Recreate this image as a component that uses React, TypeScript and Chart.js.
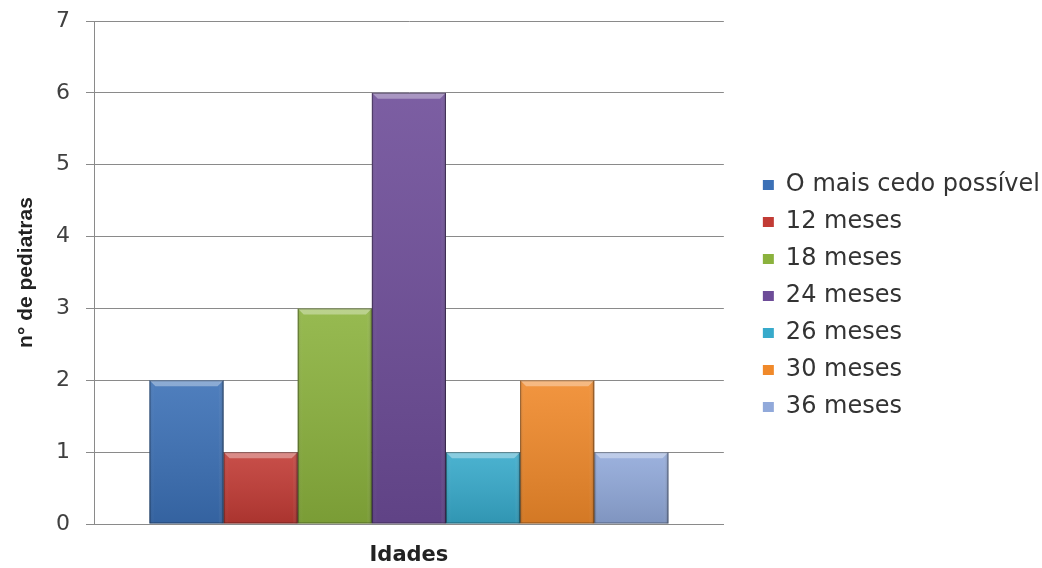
import { useEffect, useRef } from "react";
import { Chart, registerables } from "chart.js";

Chart.register(...registerables);

const categories = [""];
const seriesNames = [
  "O mais cedo possível",
  "12 meses",
  "18 meses",
  "24 meses",
  "26 meses",
  "30 meses",
  "36 meses",
];
const seriesValues = [2, 1, 3, 6, 1, 2, 1];
const seriesColors = [
  "#3b70b6",
  "#c23b35",
  "#8bb23d",
  "#6d4c98",
  "#37aacb",
  "#f0892a",
  "#91a9da",
];
const yMin = 0;
const yMax = 7;
const yStep = 1;
const xTitle = "Idades";
const yTitle = "n° de pediatras";

const bevelPlugin = {
  id: "bevel",
  afterDatasetsDraw(chart: any) {
    const ctx = chart.ctx as CanvasRenderingContext2D;
    chart.data.datasets.forEach((_ds: any, i: number) => {
      const meta = chart.getDatasetMeta(i);
      meta.data.forEach((el: any) => {
        const { x, y, base, width } = el.getProps(["x", "y", "base", "width"], true);
        const l = x - width / 2;
        const r = x + width / 2;
        const t = Math.min(y, base);
        const b = Math.max(y, base);
        const h = b - t;
        ctx.save();
        const gv = ctx.createLinearGradient(0, t, 0, b);
        gv.addColorStop(0, "rgba(255,255,255,0.10)");
        gv.addColorStop(1, "rgba(0,0,0,0.12)");
        ctx.fillStyle = gv;
        ctx.fillRect(l, t, width, h);
        const gh = ctx.createLinearGradient(l, 0, r, 0);
        gh.addColorStop(0, "rgba(0,0,0,0.10)");
        gh.addColorStop(0.07, "rgba(255,255,255,0)");
        gh.addColorStop(0.93, "rgba(255,255,255,0)");
        gh.addColorStop(1, "rgba(0,0,0,0.22)");
        ctx.fillStyle = gh;
        ctx.fillRect(l, t, width, h);
        const bv = 6;
        ctx.beginPath();
        ctx.moveTo(l, t);
        ctx.lineTo(r, t);
        ctx.lineTo(r - bv, t + bv);
        ctx.lineTo(l + bv, t + bv);
        ctx.closePath();
        ctx.fillStyle = "rgba(255,255,255,0.35)";
        ctx.fill();
        ctx.strokeStyle = "rgba(0,0,0,0.35)";
        ctx.lineWidth = 1;
        ctx.strokeRect(l + 0.5, t + 0.5, width - 1, h - 1);
        ctx.restore();
      });
    });
  },
};

export default function App() {
  const ref = useRef<HTMLCanvasElement | null>(null);

  useEffect(() => {
    if (!ref.current) return;
    const chart = new Chart(ref.current, {
      type: "bar",
      data: {
        labels: categories,
        datasets: seriesNames.map((name, i) => ({
          label: name,
          data: [seriesValues[i]],
          backgroundColor: seriesColors[i],
          borderWidth: 0,
          barPercentage: 1,
          categoryPercentage: 0.824,
        })),
      },
      options: {
        animation: false,
        responsive: true,
        maintainAspectRatio: false,
        layout: { padding: { top: 21, right: -8, bottom: 0, left: 0 } },
        plugins: {
          tooltip: { enabled: false },
          legend: {
            position: "right",
            align: "center",
            maxWidth: 400,
            title: {
              display: true,
              text: " ",
              font: { size: 3, lineHeight: 1 },
              padding: 0,
            },
            labels: {
              boxWidth: 11,
              boxHeight: 10,
              padding: 13,
              color: "#333333",
              font: { family: "DejaVu Sans", size: 24 },
            },
          },
        },
        scales: {
          x: {
            grid: { display: false },
            border: { display: true, color: "#8a8a8a", width: 1 },
            ticks: { display: false },
            title: {
              display: true,
              text: xTitle,
              color: "#222222",
              font: { family: "DejaVu Sans", size: 21, weight: "bold", lineHeight: 1.2 },
              padding: { top: 0, bottom: 0 },
            },
            afterFit: (s: any) => {
              s.height = 44;
            },
          },
          y: {
            min: yMin,
            max: yMax,
            ticks: {
              stepSize: yStep,
              padding: 16,
              color: "#404040",
              font: { family: "DejaVu Sans", size: 22 },
            },
            grid: { color: "#8a8a8a", lineWidth: 1, tickLength: 8, drawTicks: true },
            border: { display: true, color: "#8a8a8a", width: 1 },
            title: {
              display: true,
              text: yTitle,
              color: "#222222",
              font: { family: "Liberation Sans", size: 21, weight: "bold", lineHeight: 1.2 },
              padding: { top: 14, bottom: 0 },
            },
            afterFit: (s: any) => {
              s.width = 94;
              s.paddingTop = 0;
              s.paddingBottom = 0;
            },
          },
          y2: {
            position: "right",
            display: true,
            min: yMin,
            max: yMax,
            grid: { display: false },
            border: { display: false },
            ticks: { display: false },
            afterFit: (s: any) => {
              s.width = 26;
              s.paddingTop = 0;
              s.paddingBottom = 0;
            },
          },
        },
      },
      plugins: [bevelPlugin],
    });
    return () => chart.destroy();
  }, []);

  return (
    <div style={{ position: "absolute", left: 0, top: 0, width: 1042, height: 568, background: "#ffffff" }}>
      <canvas ref={ref} />
    </div>
  );
}
